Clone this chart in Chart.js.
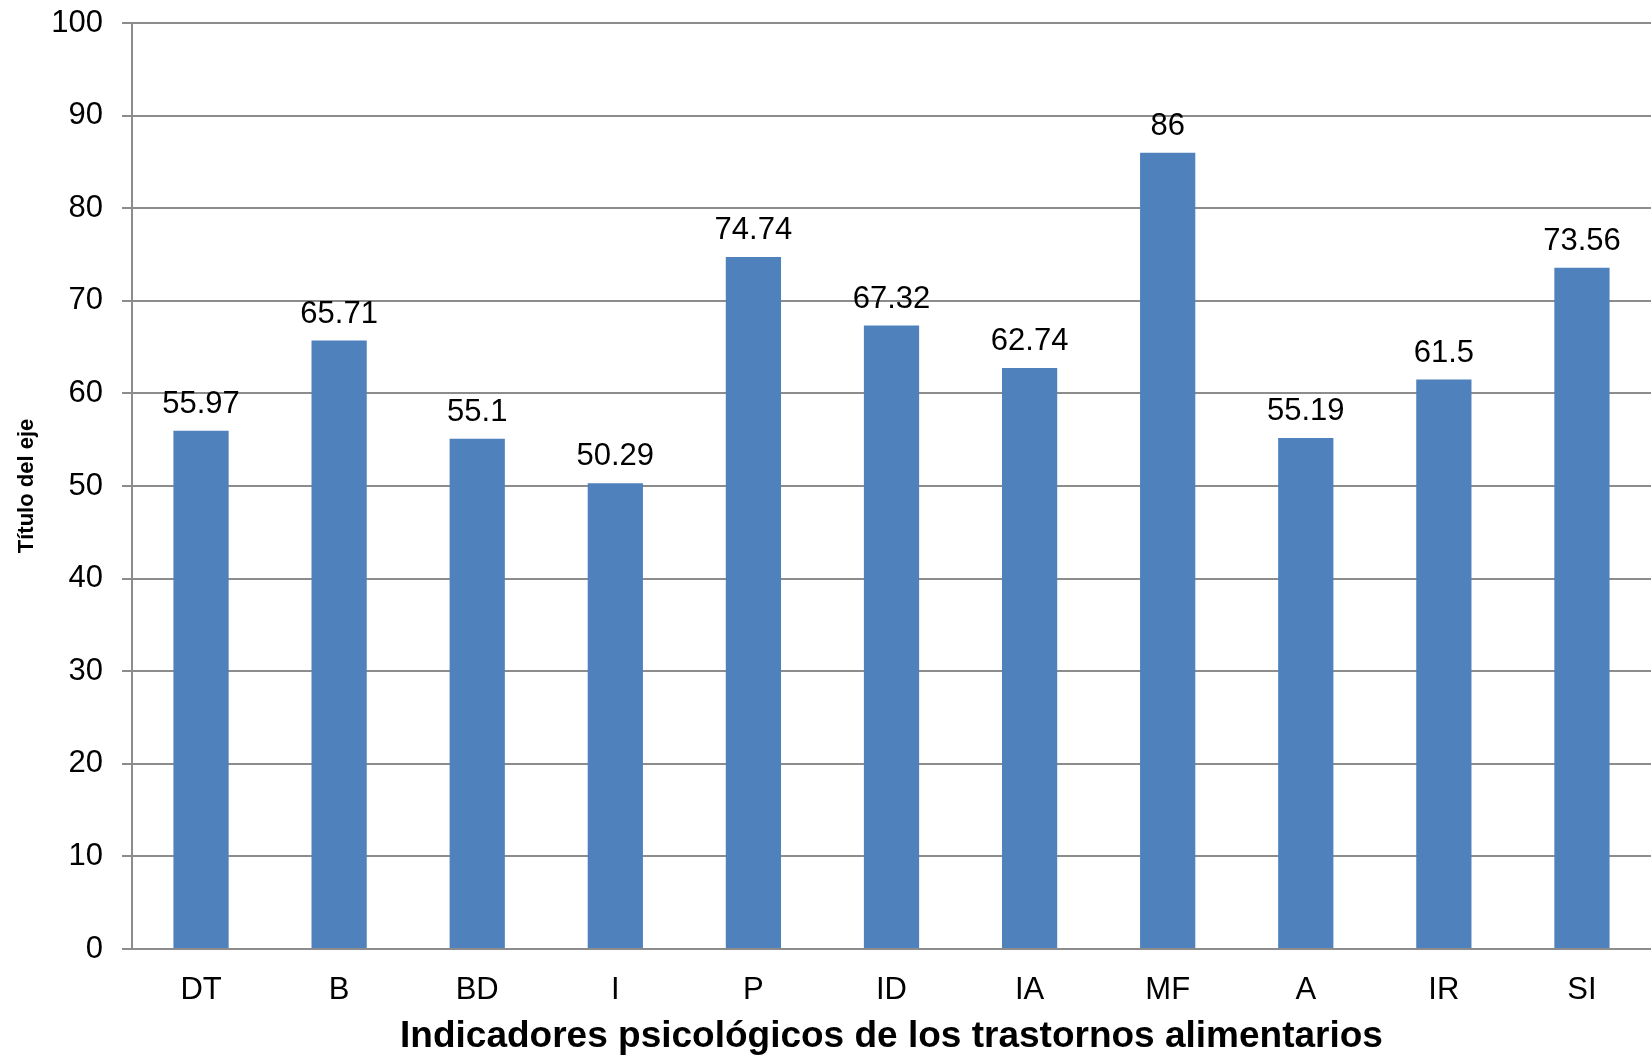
<!DOCTYPE html>
<html>
<head>
<meta charset="utf-8">
<script src="https://cdn.jsdelivr.net/npm/chart.js@4"></script>
<style>
  html, body { margin: 0; padding: 0; background: #fff; }
  #wrap { width: 1651px; height: 1059px; position: relative; }
</style>
</head>
<body>
<div id="wrap"><canvas id="chart"></canvas></div>
<script>
// Data
const categories = ['DT', 'B', 'BD', 'I', 'P', 'ID', 'IA', 'MF', 'A', 'IR', 'SI'];
const values = [55.97, 65.71, 55.1, 50.29, 74.74, 67.32, 62.74, 86, 55.19, 61.5, 73.56];
const yTicks = [0, 10, 20, 30, 40, 50, 60, 70, 80, 90, 100];
const xTitle = 'Indicadores psicológicos de los trastornos alimentarios';
const yTitle = 'Título del eje';

const FONT = '"Liberation Sans", Arial, sans-serif';
const GRID = '#8c8c8c';

// simple value labels above the bars (no datalabels plugin available)
const barLabels = {
  id: 'barLabels',
  afterDatasetsDraw(chart) {
    const ctx = chart.ctx;
    const meta = chart.getDatasetMeta(0);
    ctx.save();
    ctx.font = '31px ' + FONT;
    ctx.fillStyle = '#000';
    ctx.textAlign = 'center';
    ctx.textBaseline = 'alphabetic';
    meta.data.forEach((bar, i) => {
      ctx.fillText(String(values[i]), bar.x, bar.y - 18);
    });
    ctx.restore();
  }
};

new Chart(document.getElementById('chart'), {
  type: 'bar',
  data: {
    labels: categories,
    datasets: [{
      data: values,
      backgroundColor: '#4f81bd',
      borderWidth: 0,
      categoryPercentage: 1,
      barPercentage: 0.4
    }]
  },
  options: {
    responsive: true,
    maintainAspectRatio: false,
    animation: false,
    // plot area runs a little past the right edge in the original
    layout: { padding: { top: 23, right: -5, left: 0, bottom: 0 } },
    plugins: {
      legend: { display: false },
      tooltip: { enabled: false }
    },
    scales: {
      x: {
        grid: { display: false },
        border: { display: true, color: GRID, width: 2 },
        ticks: {
          color: '#000',
          padding: 15,
          font: { family: FONT, size: 31 }
        },
        title: {
          display: true,
          text: xTitle,
          color: '#000',
          padding: { top: 0, bottom: 0 },
          font: { family: FONT, size: 37, weight: 'bold' }
        },
        afterFit(scale) {
          scale.height = 110;
          scale.paddingLeft = 0;
          scale.paddingRight = 0;
        }
      },
      y: {
        min: 0,
        max: 100,
        afterBuildTicks(scale) { scale.ticks = yTicks.map(v => ({ value: v })); },
        grid: { color: GRID, lineWidth: 2, tickLength: 10 },
        border: { display: true, color: GRID, width: 2 },
        ticks: {
          color: '#000',
          padding: 19,
          font: { family: FONT, size: 31 }
        },
        title: {
          display: true,
          text: yTitle,
          color: '#000',
          padding: { top: 14, bottom: 0 },
          font: { family: FONT, size: 22, weight: 'bold' }
        },
        afterFit(scale) {
          scale.width = 132;
          scale.paddingTop = 0;
          scale.paddingBottom = 0;
        }
      }
    }
  },
  plugins: [barLabels]
});
</script>
</body>
</html>
